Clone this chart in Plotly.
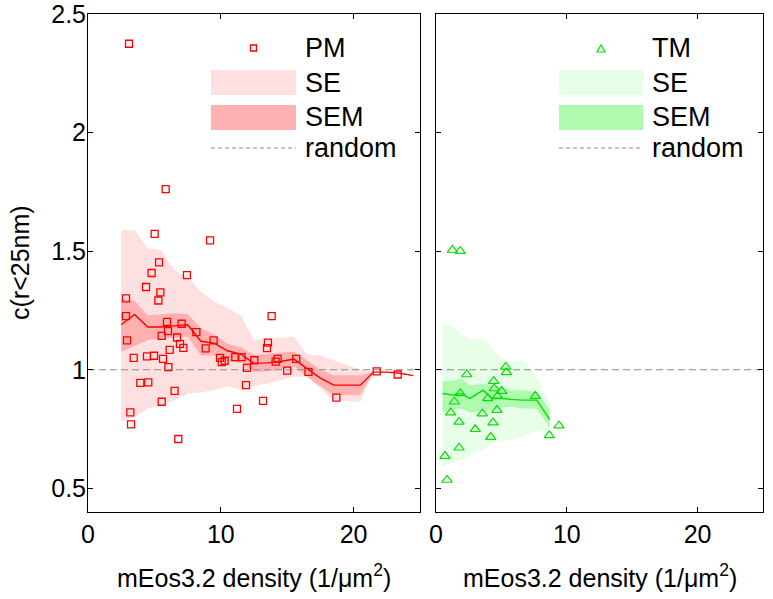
import plotly.graph_objects as go

W, H = 773, 599

# ---------------- data ----------------
pm_x = [3.09, 5.85, 5.02, 9.19, 5.35, 4.79, 7.45, 4.37, 5.45, 5.30, 2.86, 2.86, 5.95, 7.05,
        6.02, 8.16, 5.55, 2.94, 6.70, 6.93, 7.18, 9.46, 8.86, 6.15, 3.44, 4.44, 4.97, 5.65,
        6.05, 9.94, 10.07, 10.29, 11.09, 11.57, 11.97, 11.90, 3.94, 4.54, 6.52, 5.55, 11.22,
        3.19, 3.24, 6.80, 13.83, 13.55, 13.48, 12.52, 14.13, 14.28, 15.68, 15.00, 16.60,
        13.18, 18.70, 21.74, 23.32]
pm_y = [2.375, 1.762, 1.573, 1.546, 1.453, 1.408, 1.399, 1.349, 1.326, 1.292, 1.301, 1.226,
        1.202, 1.194, 1.163, 1.159, 1.143, 1.124, 1.136, 1.109, 1.092, 1.124, 1.090, 1.084,
        1.050, 1.056, 1.059, 1.046, 1.011, 1.050, 1.032, 1.038, 1.053, 1.053, 1.008, 0.935,
        0.945, 0.947, 0.911, 0.865, 0.835, 0.820, 0.770, 0.708, 1.226, 1.114, 1.091, 1.040,
        1.034, 1.046, 1.046, 0.996, 0.991, 0.869, 0.882, 0.993, 0.980]

pm_bin_x = [2.5, 3.5, 4.5, 5.5, 6.5, 7.5, 8.5, 9.5, 10.5, 11.5, 12.5, 13.5, 14.5, 15.5,
            16.5, 17.5, 18.5, 19.5, 20.5, 21.5, 22.5, 23.5, 24.5]
pm_mean = [1.19, 1.233, 1.18, 1.18, 1.185, 1.19, 1.12, 1.112, 1.08, 1.066, 1.027, 1.029,
           1.035, 1.045, 1.005, 0.965, 0.935, 0.935, 0.935, 0.99, 0.99, 0.985, 0.975]
pm_sem_hi = [1.30, 1.29, 1.23, 1.235, 1.238, 1.235, 1.175, 1.148, 1.11, 1.095, 1.062, 1.068,
             1.073, 1.076, 1.04, 1.0, 0.977, 0.977, 0.977, 0.99]
pm_sem_lo = [1.076, 1.10, 1.125, 1.13, 1.135, 1.14, 1.06, 1.06, 1.035, 1.03, 0.99, 0.993,
             1.0, 1.015, 0.97, 0.93, 0.893, 0.893, 0.893, 0.99]
pm_se_hi = [1.589, 1.589, 1.512, 1.505, 1.42, 1.39, 1.33, 1.287, 1.26, 1.23, 1.125, 1.13,
            1.135, 1.139, 1.065, 1.06, 1.04, 1.02, 1.0, 0.99]
pm_se_lo = [0.78, 0.80, 0.838, 0.845, 0.87, 0.90, 0.905, 0.914, 0.93, 0.915, 0.93, 0.942,
            0.955, 0.97, 0.97, 0.92, 0.872, 0.868, 0.865, 0.99]

tm_x = [5.33, 5.38, 2.35, 4.41, 4.46, 5.02, 1.86, 1.40, 3.95, 4.69, 7.59, 1.12, 3.54, 4.66,
        1.76, 4.36, 3.00, 4.18, 8.66, 9.40, 1.76, 0.69, 0.84, 1.25, 1.85]
tm_y = [1.012, 0.989, 0.980, 0.952, 0.921, 0.910, 0.900, 0.865, 0.879, 0.889, 0.889, 0.819,
        0.815, 0.830, 0.780, 0.777, 0.749, 0.716, 0.723, 0.764, 0.671, 0.636, 0.535, 1.505,
        1.500]

tm_bin_x = [0.5, 1.3, 1.9, 2.6, 3.6, 4.3, 5.0, 5.7, 6.7, 7.7, 8.7]
tm_mean = [0.90, 0.893, 0.90, 0.879, 0.914, 0.879, 0.88, 0.875, 0.872, 0.872, 0.79]
tm_sem_hi = [0.95, 0.955, 0.963, 0.935, 0.94, 0.935, 0.925, 0.914, 0.914, 0.905, 0.83]
tm_sem_lo = [0.823, 0.83, 0.837, 0.82, 0.825, 0.83, 0.84, 0.844, 0.837, 0.835, 0.755]
tm_se_hi = [1.20, 1.18, 1.15, 1.125, 1.132, 1.09, 1.05, 1.033, 1.038, 0.97, 0.86]
tm_se_lo = [0.59, 0.61, 0.62, 0.64, 0.661, 0.69, 0.70, 0.703, 0.717, 0.745, 0.73]

random_level = 1.0
x_range = [0, 25]
y_range = [0.4, 2.5005]
x_ticks = [0, 10, 20]
y_ticks = [0.5, 1, 1.5, 2, 2.5]
y_tick_labels = ["0.5", "1", "1.5", "2", "2.5"]

x_title = "mEos3.2 density (1/μm<sup>2</sup>)"
y_title = "c(r<25nm)"

RED = "#FF0000"
RED_SE = "#FFE0E0"
RED_SEM = "#FFB0B0"
GREEN = "#00E000"
GREEN_SE = "#E6FFE6"
GREEN_SEM = "#B0FAB0"
GREY = "#8C8C8C"
FONT = "Liberation Sans, Arial, sans-serif"
FS = 25
FS_LEG = 27

fig = go.Figure()


def band(xs, lo, hi, color, xa, ya):
    n = len(lo)
    xx = list(xs[:n]) + list(xs[:n])[::-1]
    yy = list(hi) + list(lo)[::-1]
    fig.add_trace(go.Scatter(x=xx, y=yy, fill="toself", fillcolor=color, mode="lines",
                             line=dict(width=0, color=color), hoverinfo="skip",
                             showlegend=False, xaxis=xa, yaxis=ya))


# left panel
band(pm_bin_x, pm_se_lo, pm_se_hi, RED_SE, "x", "y")
band(pm_bin_x, pm_sem_lo, pm_sem_hi, RED_SEM, "x", "y")
fig.add_trace(go.Scatter(x=x_range, y=[random_level] * 2, mode="lines",
                         line=dict(color=GREY, width=1.2, dash="7px,4px"),
                         showlegend=False, xaxis="x", yaxis="y"))
fig.add_trace(go.Scatter(x=pm_bin_x, y=pm_mean, mode="lines", line=dict(color=RED, width=1.4),
                         showlegend=False, xaxis="x", yaxis="y"))
fig.add_trace(go.Scatter(x=pm_x, y=pm_y, mode="markers",
                         marker=dict(symbol="square-open", size=7, color=RED,
                                     line=dict(width=1.3, color=RED)),
                         showlegend=False, xaxis="x", yaxis="y"))

# right panel
band(tm_bin_x, tm_se_lo, tm_se_hi, GREEN_SE, "x2", "y2")
band(tm_bin_x, tm_sem_lo, tm_sem_hi, GREEN_SEM, "x2", "y2")
fig.add_trace(go.Scatter(x=x_range, y=[random_level] * 2, mode="lines",
                         line=dict(color=GREY, width=1.2, dash="7px,4px"),
                         showlegend=False, xaxis="x2", yaxis="y2"))
fig.add_trace(go.Scatter(x=tm_bin_x, y=tm_mean, mode="lines", line=dict(color=GREEN, width=1.4),
                         showlegend=False, xaxis="x2", yaxis="y2"))
fig.add_trace(go.Scatter(x=tm_x, y=tm_y, mode="markers",
                         marker=dict(symbol="triangle-up-open", size=9, color=GREEN,
                                     line=dict(width=1.2, color=GREEN)),
                         showlegend=False, xaxis="x2", yaxis="y2"))


def px(xp):
    return xp / W


def py(yp):
    return 1 - yp / H


axis_common = dict(showline=True, linecolor="black", linewidth=1, mirror="ticks",
                   ticks="inside", ticklen=5, tickcolor="black", showgrid=False,
                   zeroline=False, automargin=False, ticklabeloverflow="allow",
                   tickfont=dict(family=FONT, size=FS, color="black"))

fig.update_layout(
    template="none",
    width=W, height=H, margin=dict(l=0, r=0, t=0, b=0, pad=0),
    paper_bgcolor="white", plot_bgcolor="white", showlegend=False,
    xaxis=dict(domain=[px(88), px(420)], range=x_range, tickvals=x_ticks, anchor="y",
               ticklabelstandoff=0, **axis_common),
    yaxis=dict(domain=[py(512), py(14)], range=y_range, tickvals=y_ticks,
               ticktext=y_tick_labels, anchor="x", ticklabelstandoff=-4, **axis_common),
    xaxis2=dict(domain=[px(436), px(763)], range=x_range, tickvals=x_ticks, anchor="y2",
                ticklabelstandoff=0, **axis_common),
    yaxis2=dict(domain=[py(512), py(14)], range=y_range, tickvals=y_ticks, anchor="x2",
                showticklabels=False, **axis_common),
)

shapes = []
annotations = []

# axis titles
for cx in [(88 + 420) / 2, (436 + 763) / 2]:
    annotations.append(dict(x=px(cx), y=py(576), xref="paper", yref="paper", text=x_title,
                            showarrow=False, xanchor="center", yanchor="middle",
                            font=dict(family=FONT, size=FS, color="black")))
annotations.append(dict(x=px(20), y=py(263), xref="paper", yref="paper", text=y_title,
                        showarrow=False, textangle=-90, xanchor="center", yanchor="middle",
                        font=dict(family=FONT, size=FS, color="black")))


# legends (decoration in paper coordinates)
def legend(x0, x1, tx, label, col, se_col, sem_col, symbol):
    mx = (x0 + x1) / 2
    items = [(48, label), (83, "SE"), (117, "SEM"), (148, "random")]
    shapes.append(dict(type="rect", xref="paper", yref="paper", x0=px(x0), x1=px(x1),
                       y0=py(95), y1=py(70), fillcolor=se_col, line=dict(width=0)))
    shapes.append(dict(type="rect", xref="paper", yref="paper", x0=px(x0), x1=px(x1),
                       y0=py(130), y1=py(105), fillcolor=sem_col, line=dict(width=0)))
    shapes.append(dict(type="line", xref="paper", yref="paper", x0=px(x0), x1=px(x1),
                       y0=py(148), y1=py(148), line=dict(color=GREY, width=1, dash="4px,3px")))
    if symbol == "square":
        shapes.append(dict(type="rect", xref="paper", yref="paper", x0=px(mx - 3), x1=px(mx + 3),
                           y0=py(51), y1=py(45), line=dict(color=col, width=1.3)))
    else:
        shapes.append(dict(type="path", xref="paper", yref="paper",
                           path=f"M {px(mx-4)} {py(52)} L {px(mx+4)} {py(52)} L {px(mx)} {py(45)} Z",
                           line=dict(color=col, width=1.2)))
    for yy, t in items:
        annotations.append(dict(x=px(tx), y=py(yy), xref="paper", yref="paper", text=t,
                                showarrow=False, xanchor="left", yanchor="middle",
                                font=dict(family=FONT, size=FS_LEG, color="black")))


legend(211, 296, 303, "PM", RED, RED_SE, RED_SEM, "square")
legend(559, 643, 650, "TM", GREEN, GREEN_SE, GREEN_SEM, "triangle")

fig.update_layout(shapes=shapes, annotations=annotations)
fig.write_html("out.html", config={"displayModeBar": False, "staticPlot": True},
               post_script="document.body.style.margin='0';document.body.style.overflow='hidden';")
